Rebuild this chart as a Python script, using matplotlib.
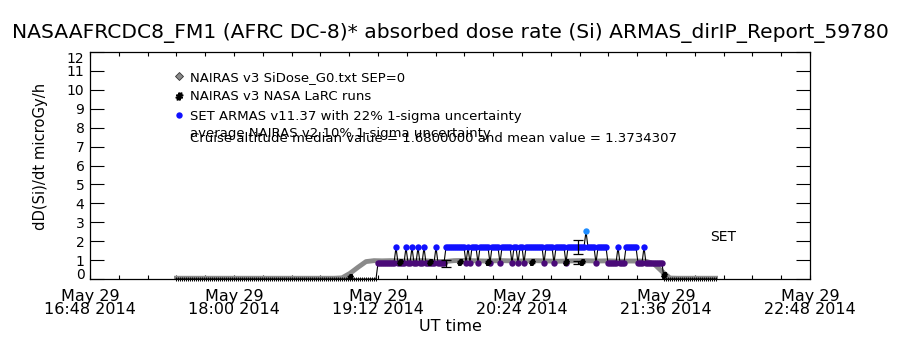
import numpy as np
import pandas as pd
import matplotlib
matplotlib.use("Agg")
import matplotlib.pyplot as plt
import matplotlib.dates as mdates
from matplotlib.lines import Line2D

plt.rcParams['font.family'] = ['DejaVu Sans']

# ---------------- data ----------------
t_start = pd.Timestamp("2014-05-29 16:48")
t_end = pd.Timestamp("2014-05-29 22:48")

# NAIRAS v3 SiDose_G0 (minutes after 16:48, microGy/h)
nairas_min = np.arange(42, 315, 4)
nairas_val = ([0.04] * 21 +
              [0.06, 0.30, 0.62, 0.92, 0.97] +
              [0.96, 0.97, 0.96, 0.95, 0.96, 0.97, 0.95, 0.92, 0.93, 0.97, 0.98,
               0.97, 0.96, 0.95, 0.96, 0.97, 0.96, 0.95, 0.96, 0.97, 0.96, 0.95,
               0.94, 0.95, 0.96, 0.97, 0.96, 0.95, 0.96, 0.95, 0.94, 0.95, 0.95] +
              [0.94, 0.80, 0.40, 0.05] +
              [0.04] * 6)

# NAIRAS v3 NASA LaRC runs
larc_min = [130, 155, 170, 185, 199, 221, 238, 246, 287]
larc_val = [0.10, 0.90, 0.92, 0.92, 0.90, 0.90, 0.90, 0.88, 0.20]

# SET ARMAS, one sample per minute, in dose quanta of 0.84 microGy/h
dose_quantum = 0.84
armas_min = np.arange(43, 314)
cruise_pattern = ("111111111" "2" "1111" "2" "11" "2" "11" "2" "11" "2" "11111" "2" "1111"
                  "2222222222" "1" "2" "1" "222" "1" "22222" "1" "2222" "1" "22222" "1"
                  "22" "1" "22" "1" "222222222" "1" "2222" "1" "22222" "1" "222222222"
                  "3" "2222" "1" "22222"
                  "11111" "2" "111" "222222" "111" "2" "111111111")
armas_level = [0] * 101 + [int(c) for c in cruise_pattern] + [0] * 27
armas_val = [lv * dose_quantum for lv in armas_level]

# uncertainty bars
armas_err_min = [178, 244]
armas_err_val = [0.84, 1.68]
armas_sigma = 0.22
nairas2_err_min = [244]
nairas2_err_val = [0.88]
nairas2_sigma = 0.10

cruise_median = 1.68
cruise_mean = 1.3734307

level_colors = {0: "black", 1: "#4a0a78", 2: "#1010ff", 3: "#1e8cff"}


def to_time(mins):
    return t_start + pd.to_timedelta(np.asarray(mins, dtype=float), unit="min")


# ---------------- figure ----------------
fig = plt.figure(figsize=(9, 3.5), dpi=100)
ax = fig.add_axes([90 / 900, 71 / 350, 720 / 900, 227 / 350])

ax.plot(to_time(nairas_min), nairas_val, color="#8a8a8a", lw=3.5, zorder=2,
        solid_capstyle="butt")

ax.plot(to_time(armas_min), armas_val, color="black", lw=0.8, zorder=3, clip_on=False)

armas_t = to_time(armas_min)
armas_level = np.array(armas_level)
armas_val = np.array(armas_val)
handles_armas = {}
for lv in [0, 1, 2, 3]:
    m = armas_level == lv
    if lv == 0:
        h, = ax.plot(armas_t[m], armas_val[m], ls="none", marker="|", ms=2.5,
                     mew=0.7, color="black", zorder=4, clip_on=False)
    else:
        h, = ax.plot(armas_t[m], armas_val[m], ls="none", marker="o", ms=4.6,
                     mec="none", color=level_colors[lv], zorder=4 + lv * 0.1)
    handles_armas[lv] = h

ax.plot(to_time(larc_min), larc_val, ls="none", marker=r"$\#$", ms=4,
        color="black", zorder=6)

ax.errorbar(to_time(armas_err_min), armas_err_val,
            yerr=np.array(armas_err_val) * armas_sigma,
            fmt="none", ecolor="black", elinewidth=0.9, capsize=3.5, capthick=0.9, zorder=7)
ax.errorbar(to_time(nairas2_err_min), nairas2_err_val,
            yerr=np.array(nairas2_err_val) * nairas2_sigma,
            fmt="none", ecolor="black", elinewidth=0.9, capsize=3.5, capthick=0.9, zorder=7)

# axes
ax.set_xlim(t_start, t_end)
ax.set_ylim(0, 12)
ax.set_xticks(pd.date_range(t_start, t_end, freq="72min"))
ax.set_xticks(pd.date_range(t_start, t_end, freq="864s"), minor=True)
ax.xaxis.set_major_formatter(mdates.DateFormatter("%b %d\n%H:%M %Y"))
ax.set_yticks(range(0, 13))
for sp in ax.spines.values():
    sp.set_linewidth(0.9)

ax.tick_params(axis="x", which="both", direction="in", top=True, bottom=True,
               length=3, width=0.8, labelsize=11.5, pad=7)
ax.tick_params(axis="y", which="major", direction="in", left=True, right=True,
               length=10, width=0.8, labelsize=10, pad=4)
for lab in ax.get_xticklabels():
    lab.set_linespacing(0.82)
yt = ax.yaxis.get_major_ticks()
yt[0].label1.set_va("baseline")
yt[-1].label1.set_va("top")

ax.set_xlabel("UT time", fontsize=11.5, labelpad=2)
ax.set_ylabel("dD(Si)/dt microGy/h", fontsize=10.6)
ax.yaxis.set_label_coords(-0.058, 0.54)

fig.text(0.5, 1 - 33 / 350, "NASAAFRCDC8_FM1 (AFRC DC-8)* absorbed dose rate (Si) ARMAS_dirIP_Report_59780",
         ha="center", va="center", fontsize=14.6)

h_sidose = Line2D([], [], ls="none", marker="D", ms=4, mfc="#8a8a8a", mec="#333333", mew=0.6)
h_larc = Line2D([], [], ls="none", marker=r"$\#$", ms=5, color="black")
fig.legend([h_sidose, h_larc, handles_armas[2]],
           ["NAIRAS v3 SiDose_G0.txt SEP=0", "NAIRAS v3 NASA LaRC runs",
            "SET ARMAS v11.37 with 22% 1-sigma uncertainty"],
           loc="upper left", bbox_to_anchor=(172 / 900, 1 - 71 / 350),
           frameon=False, fontsize=9.5, handlelength=1.0, handletextpad=0.4,
           labelspacing=0.48, borderpad=0, borderaxespad=0)
fig.text(190 / 900, 1 - 137 / 350, "average NAIRAS v2 10% 1-sigma uncertainty",
         va="baseline", fontsize=9.5)
fig.text(190 / 900, 1 - 142.5 / 350,
         f"Cruise altitude median value = {cruise_median:.7f} and mean value = {cruise_mean:.7f}",
         va="baseline", fontsize=9.5)
fig.text(723 / 900, 1 - 237 / 350, "SET", ha="center", va="center", fontsize=10)

fig.savefig("out.png", dpi=100)
